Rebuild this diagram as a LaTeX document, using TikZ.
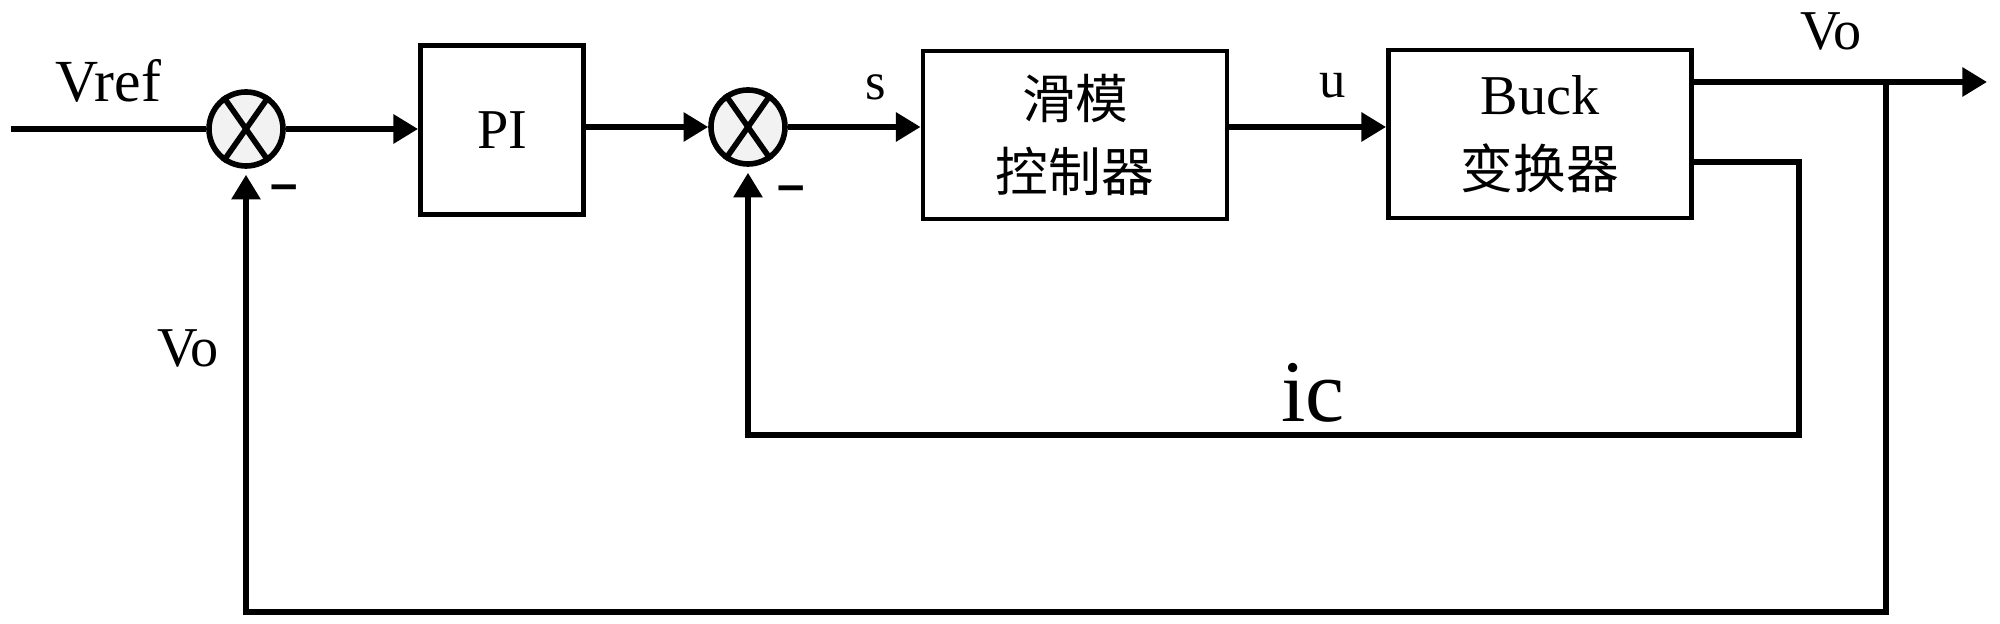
\documentclass[tikz,border=0pt]{standalone}
\usepackage{fontspec}
\setmainfont{Liberation Serif}
\setsansfont{Liberation Sans}
\newfontfamily\cjk{Noto Sans CJK SC}
\usetikzlibrary{arrows.meta}
\definecolor{sumfill}{HTML}{F2F2F2}
\begin{document}
\begin{tikzpicture}[x=0.1mm,y=-0.1mm,
  wire/.style={line width=1.6pt},
  sig/.style={wire,-{Triangle[length=7pt,width=8pt]}},
  sumcirc/.style={circle,draw,line width=1.6pt,fill=sumfill,minimum size=7.4mm,inner sep=0pt},
  blk/.style={draw,line width=1.4pt,inner sep=0pt,align=center},
  lbl/.style={inner sep=0pt,anchor=base,font=\fontsize{16}{19}\selectfont},
  minus/.style={inner sep=0pt,anchor=base,font=\sffamily\bfseries\fontsize{14}{14}\selectfont}]
\useasboundingbox (0,0) rectangle (2000,624);
% blocks
\node[sumcirc] (s1) at (246,129) {};
\draw[wire] (s1.125) -- (s1.-55) (s1.55) -- (s1.-125);
\node[blk,minimum width=16.3mm,minimum height=16.9mm,font=\fontsize{16}{18}\selectfont] (pi) at (502,130) {PI};
\node[sumcirc] (s2) at (748,127) {};
\draw[wire] (s2.125) -- (s2.-55) (s2.55) -- (s2.-125);
\node[blk,minimum width=30.4mm,minimum height=16.8mm,font=\cjk\fontsize{15}{21}\selectfont] (smc) at (1075,135) {滑模\\控制器};
\node[blk,minimum width=30.3mm,minimum height=16.8mm,font=\fontsize{16}{21}\selectfont] (buck) at (1540,134) {Buck\\{\cjk\fontsize{15}{21}\selectfont 变换器}};
% coordinates
\coordinate (in) at (11,129);
\coordinate (br) at (1886,82);
\coordinate (out) at (1987,82);
\coordinate (bot) at (1886,612);
\coordinate (icr) at (1799,162);
\coordinate (icc) at (1799,435);
% connectors
\draw[wire] (in) -- (s1.west);
\draw[sig] (s1.east) -- (s1.east -| pi.west);
\draw[sig] (pi.east |- s2) -- (s2.west);
\draw[sig] (s2.east) -- (s2.east -| smc.west);
\draw[sig] (smc.east |- s2) -- (s2 -| buck.west);
\draw[sig] (buck.east |- br) -- (out);
\draw[sig,shorten >=0.6mm] (br) -- (bot) -| (s1.south);
\draw[sig,shorten >=0.6mm] (buck.east |- icr) -- (icr) -- (icc) -| (s2.south);
% labels
\node[lbl,font=\fontsize{17}{20}\selectfont] (vref) at (108,102) {Vref};
\node[minus] (m1) at (284,201) {–};
\node[minus] (m2) at (791,202) {–};
\node[lbl,font=\fontsize{15}{18}\selectfont] (slbl) at (876,100) {s};
\node[lbl,font=\fontsize{15}{18}\selectfont] (ulbl) at (1333,98) {u};
\node[lbl] (vo1) at (1831,50) {Vo};
\node[lbl] (vo2) at (188,367) {Vo};
\node[lbl,font=\fontsize{25}{30}\selectfont] (iclbl) at (1313,422) {ic};
\end{tikzpicture}
\end{document}
